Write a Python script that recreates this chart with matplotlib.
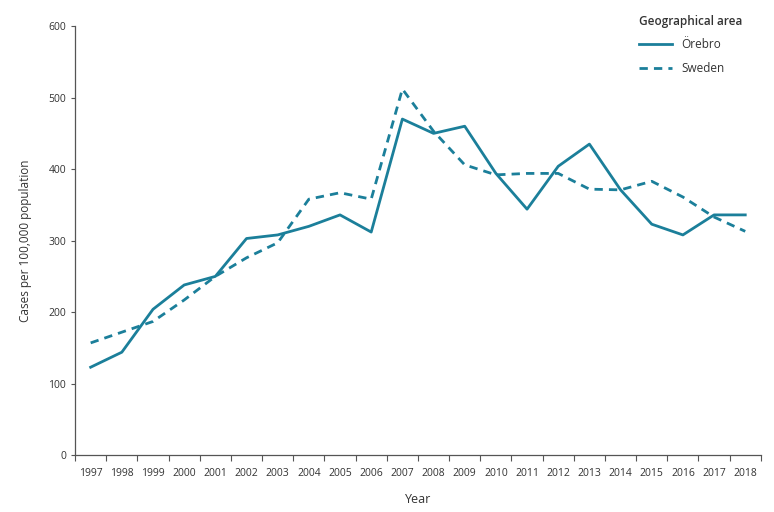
import numpy as np
import matplotlib.pyplot as plt

plt.rcParams["font.family"] = ["Open Sans", "DejaVu Sans"]

years = list(range(1997, 2019))
orebro = [123, 144, 204, 238, 250, 303, 308, 320, 336, 312, 470, 450, 460, 394,
          344, 404, 435, 371, 323, 308, 336, 336]
sweden = [157, 172, 187, 217, 250, 276, 297, 358, 367, 358, 512, 453, 406, 392,
          394, 394, 372, 371, 383, 361, 333, 313]

teal = "#1b7f9a"
grey = "#555555"

fig = plt.figure(figsize=(7.74, 5.12), dpi=100)
ax = fig.add_axes([0.097, 0.111, 0.886, 0.838])

x = np.arange(len(years))
ax.plot(x, orebro, color=teal, lw=2.0, label="Örebro")
ax.plot(x, sweden, color=teal, lw=2.0, ls=(0, (3, 2.2)), label="Sweden")

ax.set_xlim(-0.5, len(years) - 0.5)
ax.set_ylim(0, 600)
ax.set_yticks(np.arange(0, 601, 100))

# labels at category centres, tick marks at category edges
ax.set_xticks(x)
ax.set_xticklabels([str(y) for y in years])
ax.set_xticks(np.arange(-0.5, len(years), 1), minor=True)
ax.tick_params(axis="x", which="major", length=0, pad=9, labelsize=7.5, colors="#333333")
ax.tick_params(axis="x", which="minor", length=4, width=0.8, color=grey, direction="out")
ax.tick_params(axis="y", length=3, width=0.8, color=grey, labelsize=7.5, labelcolor="#333333")

for side in ["top", "right"]:
    ax.spines[side].set_visible(False)
for side in ["left", "bottom"]:
    ax.spines[side].set_color(grey)
    ax.spines[side].set_linewidth(0.9)

ax.set_xlabel("Year", fontsize=9, color="#333333", labelpad=10)
ax.set_ylabel("Cases per 100,000 population", fontsize=8.5, color="#333333", labelpad=12)

leg = fig.legend(loc="upper left", bbox_to_anchor=(0.812, 0.992), frameon=False,
                 title="Geographical area", fontsize=8.5, title_fontsize=8.5,
                 handlelength=2.8, labelspacing=0.9, alignment="left")
leg.get_title().set_fontweight("semibold")
leg.get_title().set_color("#333333")
for t in leg.get_texts():
    t.set_color("#333333")

fig.savefig("out.png", dpi=100)
